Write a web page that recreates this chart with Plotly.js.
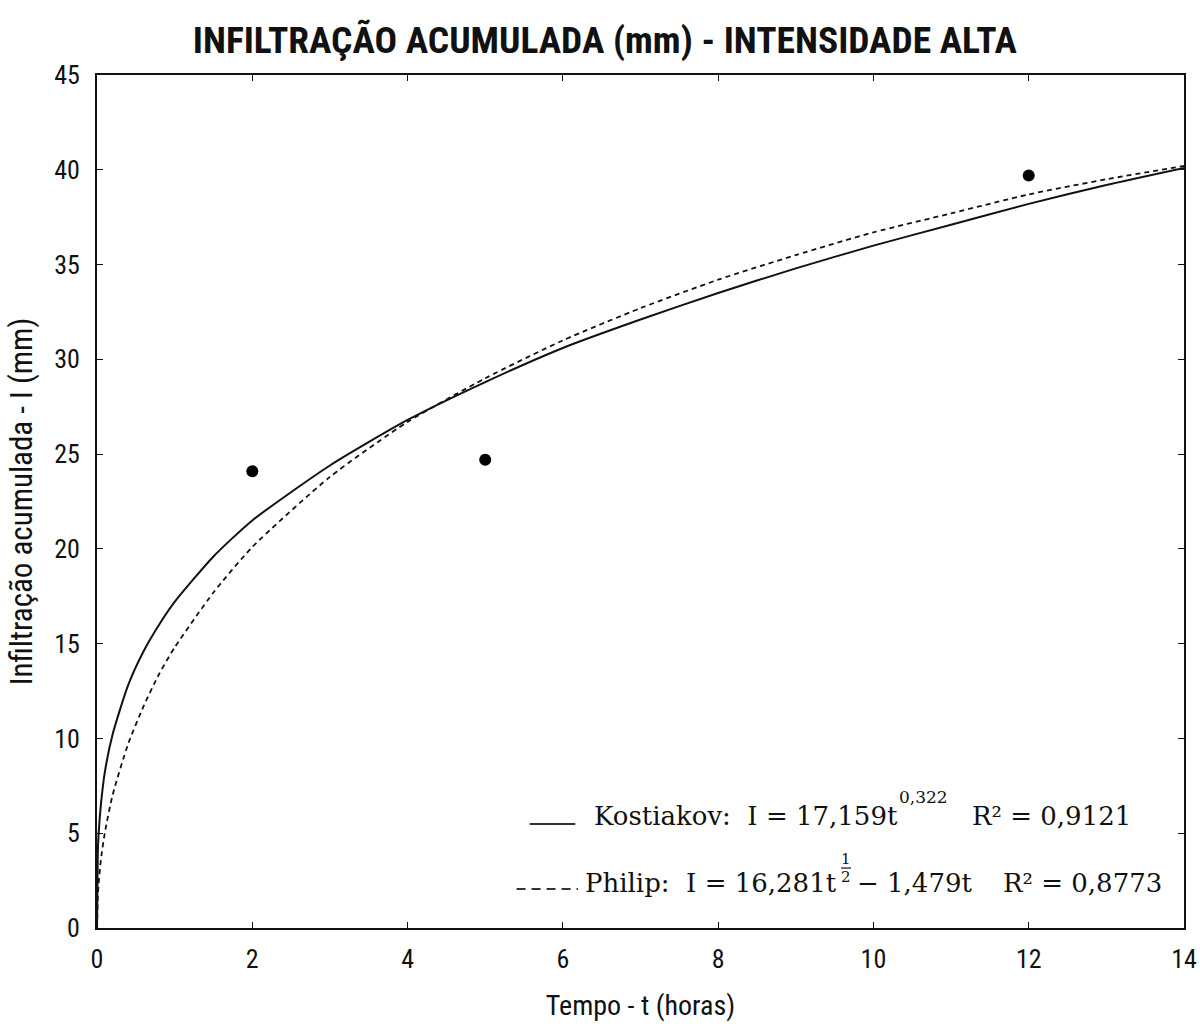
<!DOCTYPE html>
<html>
<head>
<meta charset="utf-8">
<script src="https://cdn.plot.ly/plotly-3.0.1.min.js"></script>
<style>
  html, body { margin: 0; padding: 0; background: #fff; }
  #chart { width: 1200px; height: 1026px; }
</style>
</head>
<body>
<div id="chart"></div>
<script>
// Observed cumulative infiltration (mm) at each time (h)
const obsTime = [2, 5, 12];
const obsInfiltration = [24.1, 24.7, 39.7];

// Fitted Kostiakov curve, I = 17,159 t^0,322
const kostTime = [0, 0.01, 0.02, 0.05, 0.1, 0.2, 0.4, 0.6, 0.8, 1, 1.5, 2, 3, 4, 5, 6, 7, 8, 9, 10, 11, 12, 13, 14];
const kostInfiltration = [0, 3.9, 4.9, 6.5, 8.2, 10.2, 12.8, 14.6, 16.0, 17.2, 19.6, 21.5, 24.4, 26.8, 28.8, 30.6, 32.1, 33.5, 34.8, 36.0, 37.1, 38.2, 39.2, 40.1];

// Fitted Philip curve, I = 16,281 t^1/2 - 1,479 t
const philTime = [0, 0.01, 0.02, 0.05, 0.1, 0.2, 0.4, 0.6, 0.8, 1, 1.5, 2, 3, 4, 5, 6, 7, 8, 9, 10, 11, 12, 13, 14];
const philInfiltration = [0, 1.6, 2.3, 3.6, 5.0, 7.0, 9.7, 11.7, 13.4, 14.8, 17.7, 20.1, 23.8, 26.7, 29.0, 31.0, 32.7, 34.2, 35.5, 36.7, 37.7, 38.7, 39.5, 40.2];

// Axis ticks
const xTicks = [0, 2, 4, 6, 8, 10, 12, 14];
const yTicks = [0, 5, 10, 15, 20, 25, 30, 35, 40, 45];

const narrow = '"Liberation Sans Narrow", "Arial Narrow", "Roboto Condensed", "Liberation Sans", Arial, sans-serif';
const serif = '"DejaVu Serif", "Liberation Serif", serif';
const ink = '#111';
const nb = '\u00a0';

const traces = [
  {
    x: kostTime, y: kostInfiltration, type: 'scatter', mode: 'lines',
    line: { color: ink, width: 2, shape: 'spline', smoothing: 0.6 },
    name: 'Kostiakov', hoverinfo: 'x+y'
  },
  {
    x: philTime, y: philInfiltration, type: 'scatter', mode: 'lines',
    line: { color: ink, width: 1.8, dash: '5px,4px', shape: 'spline', smoothing: 0.6 },
    name: 'Philip', hoverinfo: 'x+y'
  },
  {
    x: obsTime, y: obsInfiltration, type: 'scatter', mode: 'markers',
    marker: { color: '#000', size: 12 },
    name: 'Observado', hoverinfo: 'x+y'
  }
];

// Equation labels, written piece by piece so the exponents sit where they belong
function label(text, x, y, size, anchor) {
  return {
    xref: 'paper', yref: 'paper', x: x, y: y,
    xanchor: anchor || 'left', yanchor: 'middle', showarrow: false,
    text: text, font: { family: serif, size: size, color: ink }
  };
}

const layout = {
  width: 1200, height: 1026,
  paper_bgcolor: '#fff', plot_bgcolor: '#fff',
  showlegend: false,
  margin: { l: 97, r: 16, t: 75, b: 98 },
  title: {
    text: '<b>INFILTRAÇÃO ACUMULADA (mm) - INTENSIDADE ALTA</b>',
    font: { family: narrow, size: 37.5, color: ink },
    x: 0.504, xanchor: 'center', y: 0.961, yanchor: 'middle'
  },
  xaxis: {
    range: [0, 14], tickvals: xTicks, ticktext: xTicks.map(String),
    showgrid: false, zeroline: false,
    showline: true, linecolor: ink, linewidth: 2, mirror: 'ticks',
    ticks: 'inside', ticklen: 6, tickwidth: 1, tickcolor: ink,
    ticklabelstandoff: 7,
    tickfont: { family: narrow, size: 26, color: ink },
    title: { text: 'Tempo - t (horas)', font: { family: narrow, size: 28, color: ink }, standoff: 22 }
  },
  yaxis: {
    range: [0, 45], tickvals: yTicks, ticktext: yTicks.map(String),
    showgrid: false, zeroline: false,
    showline: true, linecolor: ink, linewidth: 2, mirror: 'ticks',
    ticks: 'inside', ticklen: 6, tickwidth: 1, tickcolor: ink,
    ticklabelstandoff: 10,
    tickfont: { family: narrow, size: 26, color: ink },
    title: { text: 'Infiltração acumulada - I (mm)', font: { family: narrow, size: 31, color: ink }, standoff: 12 }
  },
  shapes: [
    // legend keys
    { type: 'line', xref: 'paper', yref: 'paper', x0: 0.398, x1: 0.440, y0: 0.122, y1: 0.122,
      line: { color: '#333', width: 2 } },
    { type: 'line', xref: 'paper', yref: 'paper', x0: 0.386, x1: 0.4425, y0: 0.0457, y1: 0.0457,
      line: { color: '#333', width: 1.8, dash: '9px,6px' } },
    // fraction bar of the 1/2 exponent
    { type: 'line', xref: 'paper', yref: 'paper', x0: 0.6845, x1: 0.6937, y0: 0.0703, y1: 0.0703,
      line: { color: ink, width: 1.2 } }
  ],
  annotations: [
    label('Kostiakov:' + nb + nb + 'I = 17,159t', 0.4554, 0.1313, 26),
    label('0,322', 0.7360, 0.1530, 17),
    label('R² = 0,9121', 0.8035, 0.1313, 26),
    label('Philip:' + nb + nb + 'I = 16,281t', 0.4471, 0.0528, 26),
    label('1', 0.6891, 0.0809, 15, 'center'),
    label('2', 0.6891, 0.0600, 15, 'center'),
    label('− 1,479t', 0.6973, 0.0528, 26),
    label('R² = 0,8773', 0.8320, 0.0528, 26)
  ]
};

Plotly.newPlot('chart', traces, layout, { displayModeBar: false, staticPlot: true });
</script>
</body>
</html>
